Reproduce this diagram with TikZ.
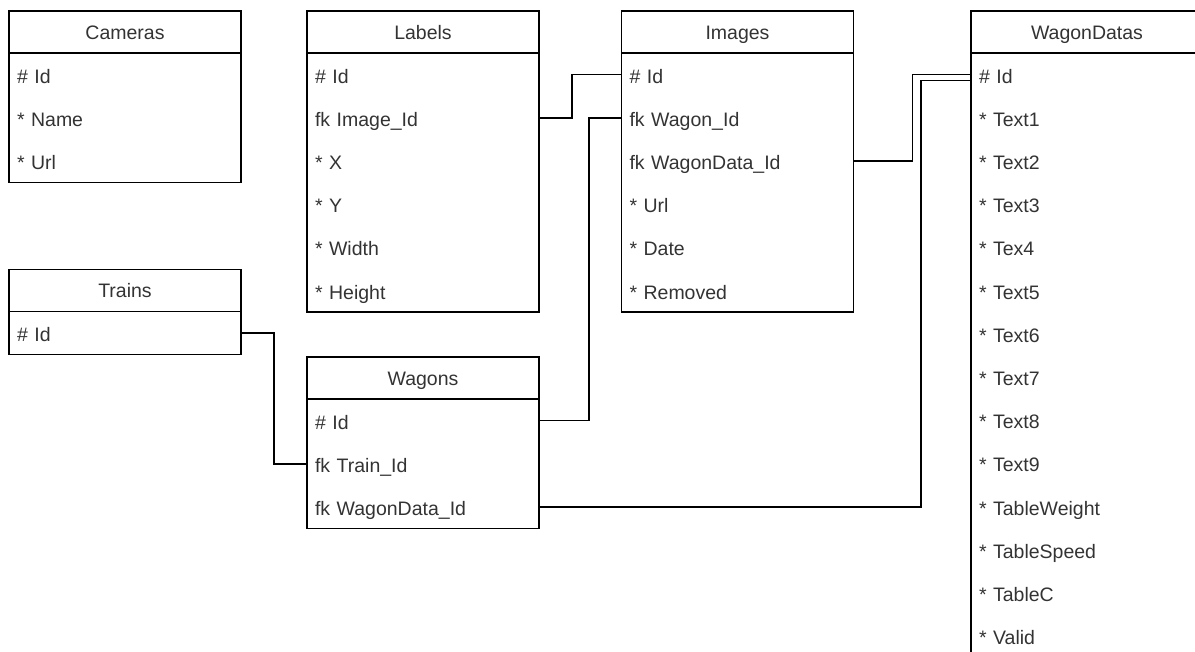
\documentclass[tikz,border=0pt]{standalone}
\usepackage{fontspec}
\setmainfont{Liberation Sans}
\usetikzlibrary{positioning}
\definecolor{entitytext}{HTML}{333333}
\begin{document}
\begin{tikzpicture}[x=1pt, y=-1pt,
  every node/.style={font={\fontsize{19.5}{23}\selectfont}, text=entitytext, outer sep=0pt},
  tablehead/.style={draw=black, line width=1.5pt, minimum width=232pt, minimum height=42pt,
    inner sep=0pt, text height=15pt, text depth=0pt},
  tablerow/.style={minimum height=43.2pt, text width=216pt, align=left, inner xsep=8pt,
    inner ysep=0pt, text height=17pt, text depth=0pt},
  tablebody/.style={draw=black, line width=1.5pt},
  link/.style={draw=black, line width=1.5pt}]
\useasboundingbox (0,0) rectangle (1195,652);
\clip (0,0) rectangle (1195,652);
% Cameras
\node[tablehead] (cameras) at (125,32) {Cameras};
\node[tablerow, below=0pt of cameras] (cameras-1) {\# Id};
\node[tablerow, below=0pt of cameras-1] (cameras-2) {* Name};
\node[tablerow, below=0pt of cameras-2] (cameras-3) {* Url};
\path[tablebody] (cameras-1.north west) rectangle (cameras-3.south east);
% Labels
\node[tablehead] (labels) at (423,32) {Labels};
\node[tablerow, below=0pt of labels] (labels-1) {\# Id};
\node[tablerow, below=0pt of labels-1] (labels-2) {fk Image\_Id};
\node[tablerow, below=0pt of labels-2] (labels-3) {* X};
\node[tablerow, below=0pt of labels-3] (labels-4) {* Y};
\node[tablerow, below=0pt of labels-4] (labels-5) {* Width};
\node[tablerow, below=0pt of labels-5] (labels-6) {* Height};
\path[tablebody] (labels-1.north west) rectangle (labels-6.south east);
% Images
\node[tablehead] (images) at (737.5,32) {Images};
\node[tablerow, below=0pt of images] (images-1) {\# Id};
\node[tablerow, below=0pt of images-1] (images-2) {fk Wagon\_Id};
\node[tablerow, below=0pt of images-2] (images-3) {fk WagonData\_Id};
\node[tablerow, below=0pt of images-3] (images-4) {* Url};
\node[tablerow, below=0pt of images-4] (images-5) {* Date};
\node[tablerow, below=0pt of images-5] (images-6) {* Removed};
\path[tablebody] (images-1.north west) rectangle (images-6.south east);
% WagonDatas
\node[tablehead] (wagondatas) at (1087,32) {WagonDatas};
\node[tablerow, below=0pt of wagondatas] (wagondatas-1) {\# Id};
\node[tablerow, below=0pt of wagondatas-1] (wagondatas-2) {* Text1};
\node[tablerow, below=0pt of wagondatas-2] (wagondatas-3) {* Text2};
\node[tablerow, below=0pt of wagondatas-3] (wagondatas-4) {* Text3};
\node[tablerow, below=0pt of wagondatas-4] (wagondatas-5) {* Tex4};
\node[tablerow, below=0pt of wagondatas-5] (wagondatas-6) {* Text5};
\node[tablerow, below=0pt of wagondatas-6] (wagondatas-7) {* Text6};
\node[tablerow, below=0pt of wagondatas-7] (wagondatas-8) {* Text7};
\node[tablerow, below=0pt of wagondatas-8] (wagondatas-9) {* Text8};
\node[tablerow, below=0pt of wagondatas-9] (wagondatas-10) {* Text9};
\node[tablerow, below=0pt of wagondatas-10] (wagondatas-11) {* TableWeight};
\node[tablerow, below=0pt of wagondatas-11] (wagondatas-12) {* TableSpeed};
\node[tablerow, below=0pt of wagondatas-12] (wagondatas-13) {* TableC};
\node[tablerow, below=0pt of wagondatas-13] (wagondatas-14) {* Valid};
\path[tablebody] (wagondatas-1.north west) rectangle (wagondatas-14.south east);
% Trains
\node[tablehead] (trains) at (125,290.5) {Trains};
\node[tablerow, below=0pt of trains] (trains-1) {\# Id};
\path[tablebody] (trains-1.north west) rectangle (trains-1.south east);
% Wagons
\node[tablehead] (wagons) at (423,378) {Wagons};
\node[tablerow, below=0pt of wagons] (wagons-1) {\# Id};
\node[tablerow, below=0pt of wagons-1] (wagons-2) {fk Train\_Id};
\node[tablerow, below=0pt of wagons-2] (wagons-3) {fk WagonData\_Id};
\path[tablebody] (wagons-1.north west) rectangle (wagons-3.south east);
% relations
\path[link] (labels-2.east) -- ++(33,0) |- (images-1.west);
\path[link] (wagons-1.east) -- ++(50,0) |- (images-2.west);
\path[link] (images-3.east) -- ++(59,0) |- (wagondatas-1.west);
\path[link] (wagons-3.east) -- ++(382,0) |- ([yshift=-6pt]wagondatas-1.west);
\path[link] (trains-1.east) -- ++(33,0) |- (wagons-2.west);
\end{tikzpicture}
\end{document}
